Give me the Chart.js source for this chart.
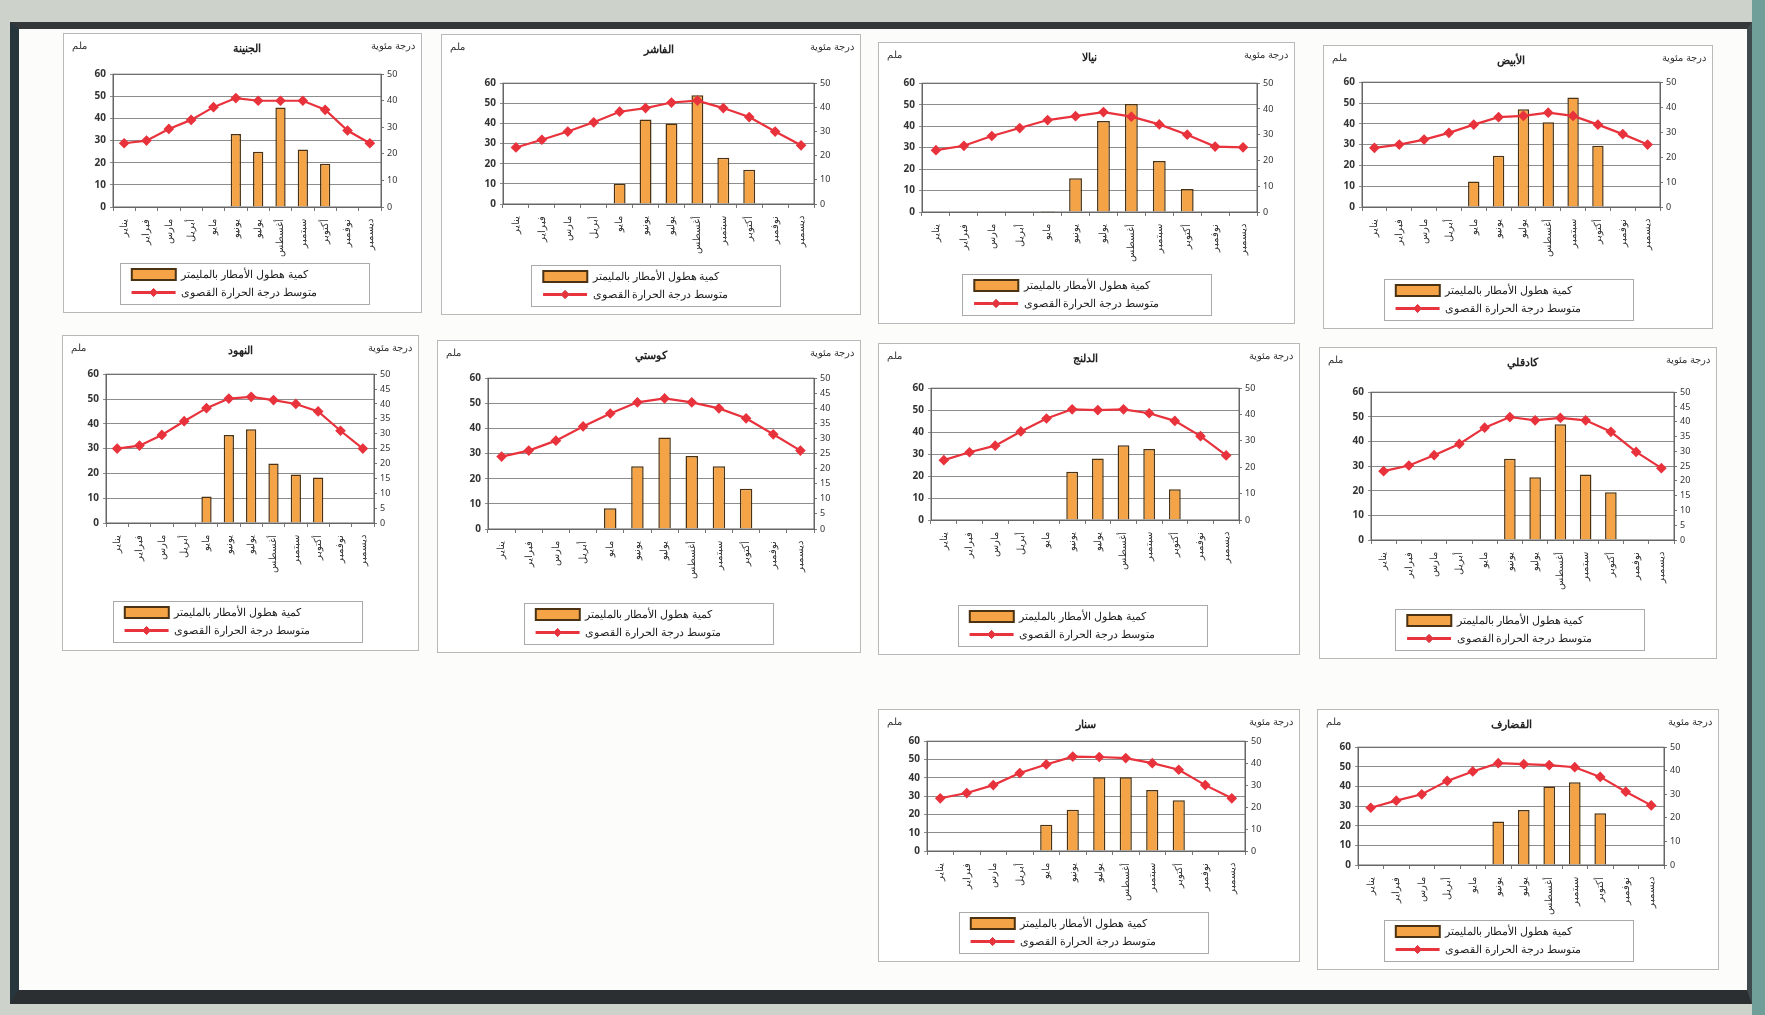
<!DOCTYPE html>
<html>
<head>
  <meta charset="utf-8">
  <title>مناخ المحطات</title>
  <style>
    body { margin: 0; width: 1765px; height: 1015px; position: relative; overflow: hidden;
           background: #cdd2cb; font-family: "Noto Sans", sans-serif; }
    .frame { position: absolute; left: 10px; top: 22px; width: 1742px; height: 982px; box-sizing: border-box;
             background: #fcfcfa; border-style: solid; border-color: #34383b #3f4a4e #2c2f31 #27363c;
             border-width: 7px 5px 14px 9px; }
    .edge { position: absolute; right: 0; top: 0; width: 13px; height: 1015px; background: #6f9f98; }
    .box { position: absolute; background: #fff; border: 1px solid #b9b9b9; box-sizing: border-box; }
  </style>
  <script src="https://cdn.jsdelivr.net/npm/chart.js"></script>
</head>
<body>
  <div class="edge"></div>
  <div class="frame"></div>
  <div class="box" style="left:63px;top:33px;width:359px;height:280px"><canvas id="c1"></canvas></div>
  <div class="box" style="left:441px;top:34px;width:420px;height:281px"><canvas id="c2"></canvas></div>
  <div class="box" style="left:878px;top:42px;width:417px;height:282px"><canvas id="c3"></canvas></div>
  <div class="box" style="left:1323px;top:45px;width:390px;height:284px"><canvas id="c4"></canvas></div>
  <div class="box" style="left:62px;top:335px;width:357px;height:316px"><canvas id="c5"></canvas></div>
  <div class="box" style="left:437px;top:340px;width:424px;height:313px"><canvas id="c6"></canvas></div>
  <div class="box" style="left:878px;top:343px;width:422px;height:312px"><canvas id="c7"></canvas></div>
  <div class="box" style="left:1319px;top:347px;width:398px;height:312px"><canvas id="c8"></canvas></div>
  <div class="box" style="left:878px;top:709px;width:422px;height:253px"><canvas id="c9"></canvas></div>
  <div class="box" style="left:1317px;top:709px;width:402px;height:261px"><canvas id="c10"></canvas></div>

  <script>
    const months = ['يناير', 'فبراير', 'مارس', 'أبريل', 'مايو', 'يونيو',
                    'يوليو', 'أغسطس', 'سبتمبر', 'أكتوبر', 'نوفمبر', 'ديسمبر'];
    const rainLabel = 'كمية هطول الأمطار بالمليمتر';
    const tempLabel = 'متوسط درجة الحرارة القصوى';
    const leftTitle = 'ملم';
    const rightTitle = 'درجة مئوية';

    // rainfall (mm) and mean max temperature per station
    const rain1 = [0, 0, 0, 0, 0, 33, 25, 45, 26, 19.5, 0, 0];
    const temp1 = [24, 25, 29.4, 32.8, 37.6, 41, 40, 40, 40, 36.6, 28.8, 24];
    const rain2 = [0, 0, 0, 0, 10, 42, 40, 54, 23, 17, 0, 0];
    const temp2 = [23.4, 26.6, 30, 33.8, 38.2, 39.7, 42, 42.8, 39.7, 36, 30, 24.3];
    const rain3 = [0, 0, 0, 0, 0.5, 15.7, 42.4, 50.3, 23.7, 10.7, 0, 0];
    const temp3 = [24, 25.7, 29.5, 32.6, 35.7, 37.2, 38.8, 37, 34, 30, 25.4, 25.1];
    const rain4 = [0, 0, 0, 0, 12.3, 24.6, 47, 40.8, 52.6, 29.5, 0, 0];
    const temp4 = [23.7, 25, 27, 29.7, 33, 36, 36.5, 37.8, 36.5, 33, 29.2, 25];
    const rain5 = [0, 0, 0, 0, 10.7, 35.5, 37.8, 24, 19.6, 18.3, 0, 0];
    const temp5 = [25, 26, 29.6, 34.2, 38.6, 41.8, 42.4, 41.3, 40, 37.5, 31, 25];
    const rain6 = [0, 0, 0, 0, 8.3, 25, 36.4, 29, 25, 16, 0, 0];
    const temp6 = [24, 26, 29.3, 34, 38.3, 42, 43.3, 42, 40, 36.7, 31.4, 26];
    const rain7 = [0, 0, 0, 0, 0, 22, 28, 34, 32.3, 14, 0, 0];
    const temp7 = [22.7, 25.7, 28.2, 33.6, 38.5, 42, 41.7, 42, 40.5, 37.6, 31.8, 24.5];
    const rain8 = [0, 0, 0, 0, 0, 33, 25.5, 47, 26.6, 19.4, 0, 0];
    const temp8 = [23.3, 25.2, 28.7, 32.5, 38, 41.6, 40.5, 41.3, 40.5, 36.6, 29.8, 24.3];
    const rain9 = [0, 0, 0, 0, 14.3, 22.6, 40.3, 40.3, 33.4, 27.8, 0, 0];
    const temp9 = [24, 26.4, 30, 35.5, 39.4, 43, 42.8, 42.3, 40, 37, 30, 24];
    const rain10 = [0, 0, 0, 0, 0, 22.2, 28, 40, 42.2, 26.3, 0, 0];
    const temp10 = [24.3, 27.3, 30, 35.7, 39.7, 43.2, 42.8, 42.4, 41.5, 37.4, 31.1, 25.3];

    const rainTicks = { min: 0, max: 60, step: 10 };
    const tempTicks = { min: 0, max: 50, step: 5 };

    // pad legend text with no-break spaces so both rows have the same width (and wrap)
    const legendFont = '11px "Noto Sans"';
    const meas = document.createElement('canvas').getContext('2d');
    meas.font = legendFont;
    function padText(t, w) {
      let s = t;
      while (meas.measureText(s).width < w) s += '\u00A0';
      return s;
    }

    // corner titles, plot frame, legend frame and the marker on the legend line
    const extras = {
      id: 'extras',
      afterDraw(chart) {
        const { ctx, chartArea } = chart;
        ctx.save();
        ctx.font = '10px "Noto Sans"';
        ctx.fillStyle = '#333';
        ctx.textBaseline = 'top';
        ctx.textAlign = 'left';
        ctx.fillText(leftTitle, 8, 7);
        ctx.textAlign = 'right';
        ctx.fillText(rightTitle, chart.width - 6, 7);
        ctx.strokeStyle = '#666';
        ctx.lineWidth = 1;
        ctx.strokeRect(chartArea.left, chartArea.top, chartArea.right - chartArea.left, chartArea.bottom - chartArea.top);
        const hb = chart.legend.legendHitBoxes;
        if (hb && hb.length) {
          let l = Infinity, t = Infinity, r = -Infinity, b = -Infinity;
          hb.forEach(h => { l = Math.min(l, h.left); t = Math.min(t, h.top);
                            r = Math.max(r, h.left + h.width); b = Math.max(b, h.top + h.height); });
          ctx.strokeStyle = '#aaa';
          ctx.strokeRect(Math.round(l - 12) + 0.5, Math.round(t - 6) + 0.5, Math.round(r - l + 18), Math.round(b - t + 12));
          const h = hb[1];
          const ds = chart.data.datasets[1];
          Chart.helpers.drawPoint(ctx, { pointStyle: 'rectRot', radius: 4, borderWidth: 1 },
                                  h.left + 22, h.top + h.height / 2);
          ctx.fillStyle = ds.backgroundColor;
          ctx.strokeStyle = ds.borderColor;
          ctx.fill();
          ctx.stroke();
        }
        ctx.restore();
      }
    };

    // box: [plot left, plot right, plot top, space under plot] inside the chart box
    function makeChart(id, title, rain, temp, box) {
      const [L, R, T, B] = box;
      const ctx = document.getElementById(id).getContext('2d');
      return new Chart(ctx, {
        type: 'bar',
        data: {
          labels: months,
          datasets: [{
            type: 'bar',
            label: padText(rainLabel, 180),
            data: rain,
            yAxisID: 'y',
            backgroundColor: '#f4a447',
            borderColor: '#4a3212',
            borderWidth: 1.5,
            barPercentage: 0.46,
            categoryPercentage: 1,
            order: 2
          }, {
            type: 'line',
            label: padText(tempLabel, 180),
            data: temp,
            yAxisID: 'y1',
            borderColor: '#e8323c',
            backgroundColor: '#e8323c',
            borderWidth: 2.2,
            pointStyle: 'rectRot',
            pointRadius: 3.8,
            tension: 0,
            order: 1
          }]
        },
        options: {
          responsive: true,
          maintainAspectRatio: false,
          animation: false,
          layout: { padding: { left: L - 24, right: R - 24, top: 0, bottom: 4 } },
          plugins: {
            title: { display: true, text: title, color: '#222',
                     font: { size: 11, weight: 'bold', family: 'Noto Sans' },
                     padding: { top: 8, bottom: Math.max(T - 21, 4) } },
            tooltip: { enabled: false },
            legend: {
              position: 'bottom',
              labels: {
                usePointStyle: true,
                pointStyleWidth: 44,
                color: '#222',
                font: { size: 11, family: 'Noto Sans' },
                padding: 7,
                sort: (a, b) => a.datasetIndex - b.datasetIndex,
                generateLabels(chart) {
                  const items = Chart.defaults.plugins.legend.labels.generateLabels(chart);
                  items.forEach(it => {
                    if (it.datasetIndex === 1) { it.pointStyle = 'line'; it.lineWidth = 3; }
                    else { it.pointStyle = 'rect'; it.lineWidth = 2; }
                  });
                  return items;
                }
              }
            }
          },
          scales: {
            x: {
              afterFit: s => { s.height = B - 47; },
              grid: { display: true, drawOnChartArea: false, drawTicks: true, tickLength: 4, color: '#777' },
              border: { color: '#666' },
              ticks: { color: '#333', font: { size: 10, family: 'Noto Sans' }, minRotation: 90, maxRotation: 90, padding: 8 }
            },
            y: {
              position: 'left',
              afterFit: s => { s.width = 24; },
              min: rainTicks.min, max: rainTicks.max,
              grid: { color: '#8d8d8d', tickLength: 3 },
              border: { color: '#666' },
              ticks: { stepSize: rainTicks.step, color: '#333', font: { size: 10, weight: 'bold', family: 'Noto Sans' }, padding: 4 }
            },
            y1: {
              position: 'right',
              afterFit: s => { s.width = 24; },
              min: tempTicks.min, max: tempTicks.max,
              grid: { drawOnChartArea: false, tickLength: 3, color: '#777' },
              border: { color: '#666' },
              ticks: { stepSize: tempTicks.step, color: '#333', font: { size: 9, family: 'Noto Sans' }, padding: 3 }
            }
          }
        },
        plugins: [extras]
      });
    }

    makeChart('c1', 'الجنينة', rain1, temp1, [49, 40, 40, 102]);
    makeChart('c2', 'الفاشر', rain2, temp2, [61, 46, 48, 107]);
    makeChart('c3', 'نيالا', rain3, temp3, [43, 37, 40, 108]);
    makeChart('c4', 'الأبيض', rain4, temp4, [38, 52, 36, 118]);
    makeChart('c5', 'النهود', rain5, temp5, [43, 44, 38, 124]);
    makeChart('c6', 'كوستي', rain6, temp6, [50, 46, 37, 120]);
    makeChart('c7', 'الدلنج', rain7, temp7, [52, 60, 44, 131]);
    makeChart('c8', 'كادقلي', rain8, temp8, [51, 42, 44, 115]);
    makeChart('c9', 'سنار', rain9, temp9, [48, 54, 31, 107]);
    makeChart('c10', 'القضارف', rain10, temp10, [40, 54, 37, 101]);
  </script>
</body>
</html>
